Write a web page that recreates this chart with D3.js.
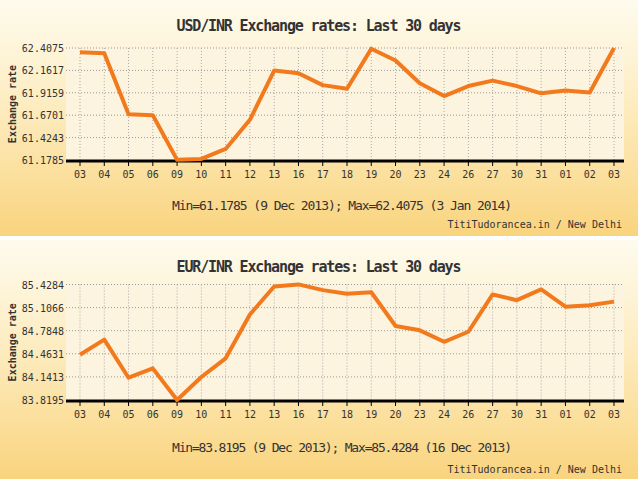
<!DOCTYPE html><html><head><meta charset="utf-8">
<script src="https://cdn.jsdelivr.net/npm/d3@7"></script>
<style>body{margin:0;background:#fff}svg{display:block}text{font-family:"DejaVu Sans Mono",monospace}</style></head><body>
<svg id="c" width="638" height="479"></svg>
<script>
const days = ["03","04","05","06","09","10","11","12","13","16","17","18","19","20","23","24","26","27","30","31","01","02","03"];
const usd = [62.36,62.35,61.68,61.67,61.18,61.19,61.30,61.62,62.16,62.13,62.00,61.96,62.40,62.27,62.02,61.88,61.99,62.05,61.99,61.91,61.94,61.92,62.4075];
const eur = [84.45,84.66,84.13,84.26,83.82,84.14,84.40,85.01,85.40,85.43,85.35,85.30,85.32,84.85,84.79,84.63,84.77,85.29,85.21,85.36,85.12,85.14,85.19];
const usdTicks = [61.1785,61.4243,61.6701,61.9159,62.1617,62.4075];
const eurTicks = [83.8195,84.1413,84.4631,84.7848,85.1066,85.4284];
const panels = [
 {title:"USD/INR Exchange rates: Last 30 days", vals:usd, ticks:usdTicks, note:"Min=61.1785 (9 Dec 2013); Max=62.4075 (3 Jan 2014)", y0:0},
 {title:"EUR/INR Exchange rates: Last 30 days", vals:eur, ticks:eurTicks, note:"Min=83.8195 (9 Dec 2013); Max=85.4284 (16 Dec 2013)", y0:240}
];
const svg = d3.select("#c");
const defs = svg.append("defs");
const g = defs.append("linearGradient").attr("id","bg").attr("x1",0).attr("x2",0).attr("y1",0).attr("y2",1);
g.append("stop").attr("offset","0%").attr("stop-color","#fefbee");
g.append("stop").attr("offset","45%").attr("stop-color","#fdecc0");
g.append("stop").attr("offset","100%").attr("stop-color","#f9d47e");
panels.forEach((p,i)=>{
  const G = svg.append("g").attr("transform",`translate(0,${p.y0})`);
  G.append("rect").attr("width",638).attr("height",i?239:236).attr("fill","url(#bg)");
  const x = d3.scalePoint().domain(d3.range(days.length)).range([80,614]);
  const top = i?44.5:48, bot = i?160:160;
  const y = d3.scaleLinear().domain([p.ticks[0],p.ticks[5]]).range([bot,top]);
  G.append("rect").attr("x",66).attr("y",top-2).attr("width",558).attr("height",bot-top+2).attr("fill","#fdf4e0");
  G.append("g").selectAll("line").data(p.ticks.slice(1)).join("line").attr("x1",66).attr("x2",624)
   .attr("y1",d=>y(d)).attr("y2",d=>y(d)).attr("stroke","#999").attr("stroke-dasharray","1,2");
  G.append("g").selectAll("line").data(d3.range(days.length)).join("line").attr("x1",d=>x(d)).attr("x2",d=>x(d))
   .attr("y1",top).attr("y2",bot).attr("stroke","#aaa").attr("stroke-dasharray","1,2");
  G.append("line").attr("x1",66).attr("x2",624).attr("y1",bot+1).attr("y2",bot+1).attr("stroke","#000").attr("stroke-width",3);
  G.append("g").selectAll("line").data(d3.range(days.length)).join("line").attr("x1",d=>x(d)).attr("x2",d=>x(d))
   .attr("y1",bot+1).attr("y2",bot+6).attr("stroke","#000");
  G.append("g").selectAll("text").data(days).join("text").attr("x",(d,k)=>x(k)).attr("y",bot+18)
   .attr("text-anchor","middle").attr("font-size",10).attr("fill","#333").text(d=>d);
  G.append("g").selectAll("text").data(p.ticks).join("text").attr("x",64).attr("y",d=>y(d)+4)
   .attr("text-anchor","end").attr("font-size",10).attr("fill","#333").text(d=>d.toFixed(4));
  G.append("text").attr("transform",`translate(16,${(top+bot)/2}) rotate(-90)`).attr("text-anchor","middle")
   .attr("font-size",10).attr("font-weight","bold").attr("fill","#333").text("Exchange rate");
  G.append("text").attr("x",319).attr("y",i?32:31).attr("text-anchor","middle").attr("font-size",15).attr("font-weight","bold")
   .attr("fill","#333").attr("textLength",285).text(p.title);
  G.append("text").attr("x",342).attr("y",i?212:210).attr("text-anchor","middle").attr("font-size",13)
   .attr("fill","#333").attr("textLength",340).text(p.note);
  G.append("text").attr("x",622).attr("y",i?233:228).attr("text-anchor","end").attr("font-size",10)
   .attr("fill","#333").text("TitiTudorancea.in / New Delhi");
  G.append("path").datum(p.vals).attr("fill","none").attr("stroke","#f27a1c").attr("stroke-width",4)
   .attr("stroke-linejoin","round").attr("d",d3.line().x((d,k)=>x(k)).y(d=>y(d)));
});
svg.append("rect").attr("y",236).attr("width",638).attr("height",4).attr("fill","#fff");
</script></body></html>
